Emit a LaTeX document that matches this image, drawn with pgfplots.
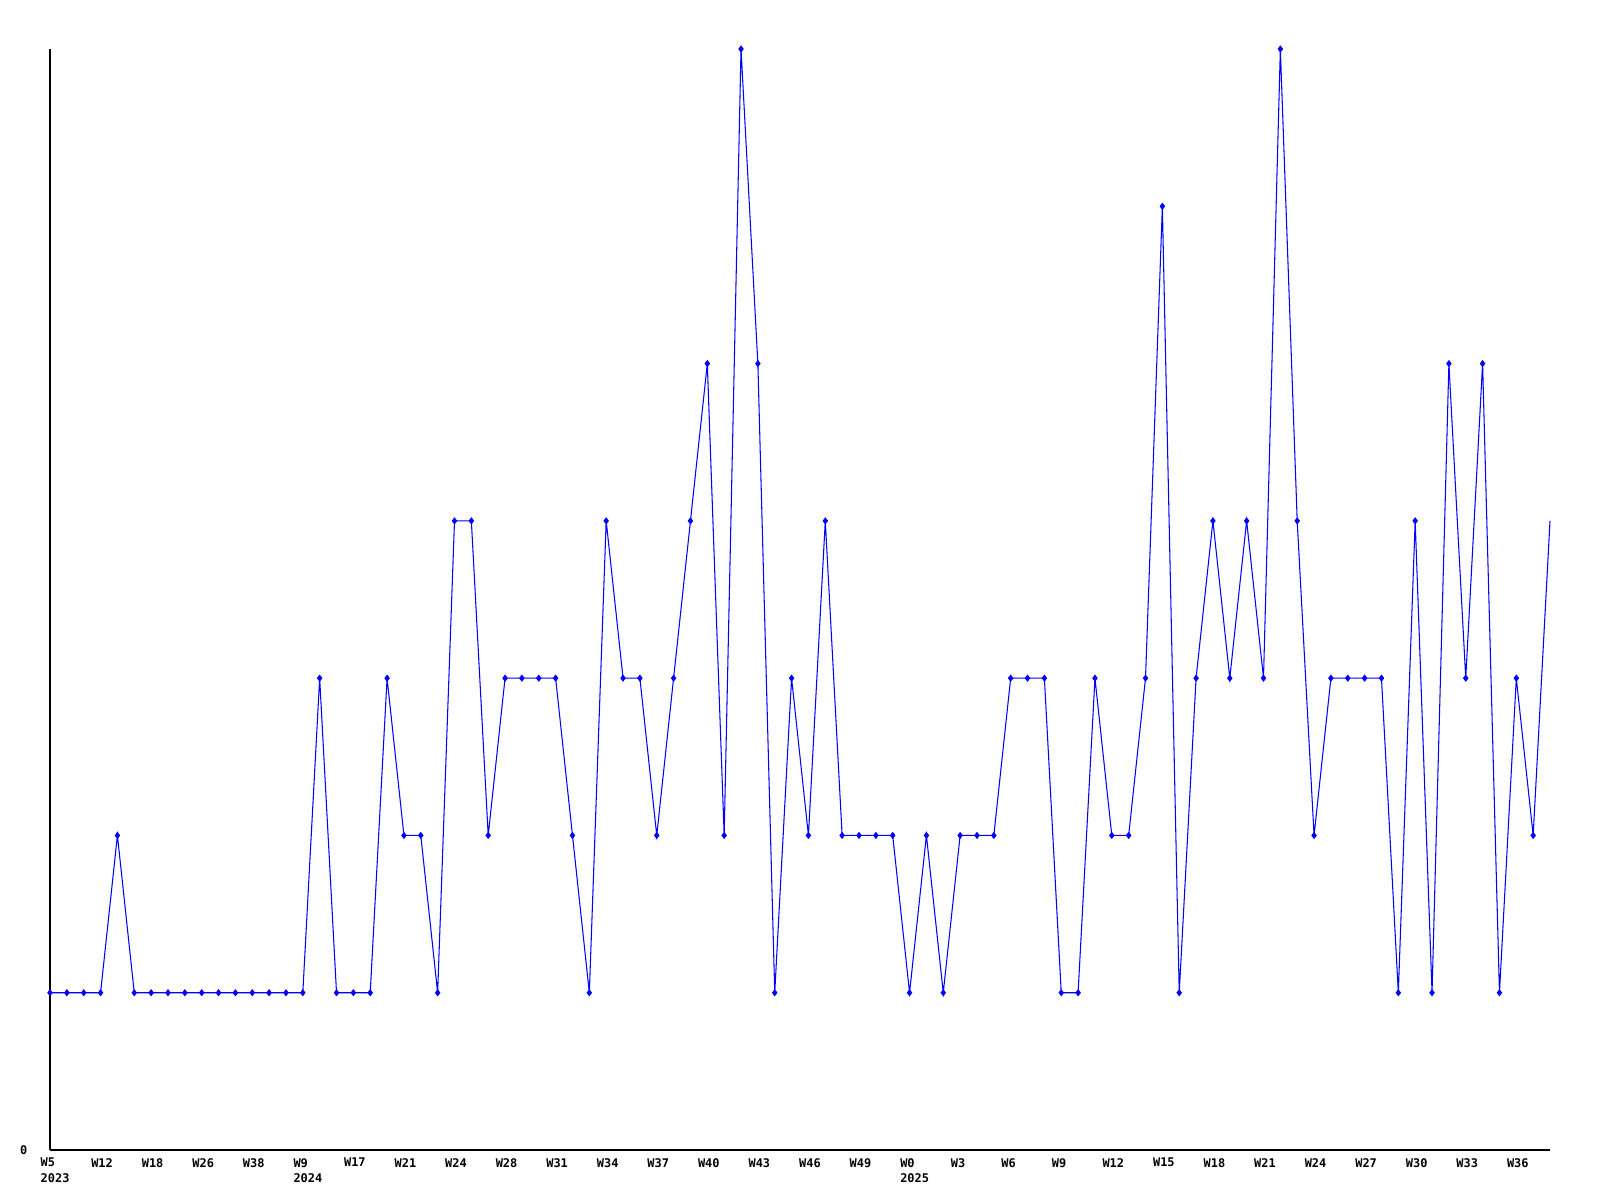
\documentclass[border=0pt]{standalone}
\usepackage{fontspec}
\usepackage{pgfplots}
\pgfplotsset{compat=1.18}
\newfontfamily\pix{DejaVu Sans Mono}
\begin{document}
\begin{tikzpicture}
\path[use as bounding box] (0,0) rectangle (160mm,120mm);
\begin{axis}[
  at={(5mm,5mm)}, anchor=south west,
  scale only axis, width=150mm, height=110.1mm,
  xmin=0, xmax=89, ymin=0, ymax=7,
  axis x line=bottom, axis y line=left,
  axis line style={black, line width=0.35pt, -},
  major tick length=0pt,
  xtick={0,3,...,87},
  xticklabels={{W5\\2023},W12,W18,W26,W38,{W9\\2024},W17,W21,W24,W28,W31,W34,W37,W40,W43,W46,W49,{W0\\2025},W3,W6,W9,W12,W15,W18,W21,W24,W27,W30,W33,W36},
  xticklabel style={anchor=north west, inner sep=0pt, xshift=-1mm, yshift=-0.75mm, align=left, font=\pix\bfseries\fontsize{3.4pt}{4.3pt}\selectfont},
  ytick={0}, yticklabels={0},
  yticklabel style={anchor=east, inner sep=0pt, xshift=-2.2mm, font=\pix\bfseries\fontsize{3.4pt}{4.3pt}\selectfont},
  clip=false,
]
\addplot[color={rgb,255:red,0;green,0;blue,255}, line width=0.3pt, mark=diamond*, mark size=0.28mm, mark options={solid}, mark indices={1,...,89}] coordinates {
(0,1)(1,1)(2,1)(3,1)(4,2)(5,1)(6,1)(7,1)(8,1)(9,1)(10,1)(11,1)(12,1)(13,1)(14,1)(15,1)
(16,3)(17,1)(18,1)(19,1)(20,3)(21,2)(22,2)(23,1)(24,4)(25,4)(26,2)(27,3)(28,3)(29,3)(30,3)
(31,2)(32,1)(33,4)(34,3)(35,3)(36,2)(37,3)(38,4)(39,5)(40,2)(41,7)(42,5)(43,1)(44,3)(45,2)
(46,4)(47,2)(48,2)(49,2)(50,2)(51,1)(52,2)(53,1)(54,2)(55,2)(56,2)(57,3)(58,3)(59,3)(60,1)
(61,1)(62,3)(63,2)(64,2)(65,3)(66,6)(67,1)(68,3)(69,4)(70,3)(71,4)(72,3)(73,7)(74,4)(75,2)
(76,3)(77,3)(78,3)(79,3)(80,1)(81,4)(82,1)(83,5)(84,3)(85,5)(86,1)(87,3)(88,2)(89,4)
};
\end{axis}
\end{tikzpicture}
\end{document}
